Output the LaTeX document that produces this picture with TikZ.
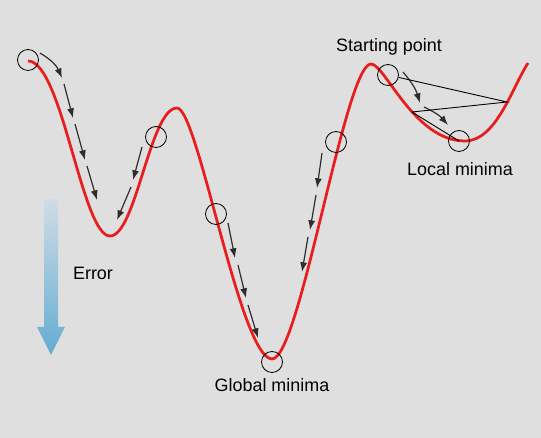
\documentclass[tikz,border=0pt]{standalone}
\usepackage{fontspec}
\setmainfont{Liberation Sans}
\usetikzlibrary{arrows.meta}
\definecolor{bggray}{RGB}{223,223,223}
\definecolor{curvered}{RGB}{232,30,30}
\definecolor{steparrow}{RGB}{45,45,45}
\definecolor{errtop}{RGB}{208,220,230}
\definecolor{errbottom}{RGB}{100,172,210}
\tikzset{
  marker/.style={draw=black, line width=0.016cm, circle, inner sep=0pt, minimum size=0.42cm},
  stepline/.style={steparrow, line width=0.024cm, -{Latex[length=5.5pt,width=4pt]}},
  guide/.style={black, line width=0.018cm},
  label/.style={font=\fontsize{10.2}{12}\selectfont, text=black}
}
\begin{document}
\begin{tikzpicture}[x=0.02cm, y=-0.02cm]
% \clip (0,0) rectangle (541,438);
\fill [bggray] (0,0) rectangle (541,438);%
\useasboundingbox (0,0) rectangle (541,438);%

% Drawing error curve
\draw [curvered, line width=0.055cm] (28,61) .. controls (62,61) and (82,236) .. (110,236)%
  .. controls (136,236) and (150,108) .. (177,108)%
  .. controls (198,108) and (240,358) .. (272,359)%
  .. controls (300,359) and (345,64) .. (371,64)%
  .. controls (385,64) and (414,141) .. (465,141)%
  .. controls (496,141) and (512,88) .. (528,63);%

% Marking point S by circle
\node [marker] (s0) at (28,60) {};%
% Marking point A by circle
\node [marker] (a0) at (156,137) {};%
% Marking point B by circle
\node [marker] (b0) at (216,214) {};%
% Marking point C by circle
\node [marker] (c0) at (336,142) {};%
% Marking global minimum by circle
\node [marker] (gmin) at (272,362) {};%
% Marking starting point by circle
\node [marker] (sp) at (388,75) {};%
% Marking local minimum by circle
\node [marker] (lmin) at (459,141) {};%

% Drawing steps from S
\draw [stepline] (40,53) to[bend left=18] (62,78);%
\draw [stepline] (64,84) -- (73,118);%
\draw [stepline] (75,124) -- (85,160);%
\draw [stepline] (87,166) -- (97,200);%

% Drawing steps from A
\draw [stepline] (142,147) -- (133,180);%
\draw [stepline] (131,187) -- (117,220);%

% Drawing steps from B
\draw [stepline] (228,223) -- (235,258);%
\draw [stepline] (238,265) -- (246,298);%
\draw [stepline] (248,305) -- (258,338);%

% Drawing steps from C
\draw [stepline] (322,153) -- (317,188);%
\draw [stepline] (316,195) -- (310,230);%
\draw [stepline] (308,237) -- (302,272);%

% Drawing steps from starting point
\draw [stepline] (403,72) to[bend left=12] (420,103);%
\draw [stepline] (424,107) to[bend left=12] (448,125);%

% Drawing bouncing path
\coordinate (apex) at (507,102);%
\coordinate (bounce) at (412,112);%
\draw [guide] (sp) -- (apex) -- (bounce) -- (lmin.center);%

% Drawing error arrow
\shade [top color=errtop, bottom color=errbottom]%
  (44,199) -- (58,199) -- (58,327) -- (65,327) -- (51,355) -- (37,327) -- (44,327) -- cycle;%

% Labels
\node [label] (errlbl) at (93,273) {Error};%
\node [label] (splbl) at (389,47) {Starting point};%
\node [label] (lmlbl) at (460,169) {Local minima};%
\node [label] (gmlbl) at (272,385) {Global minima};%
\end{tikzpicture}
\end{document}
